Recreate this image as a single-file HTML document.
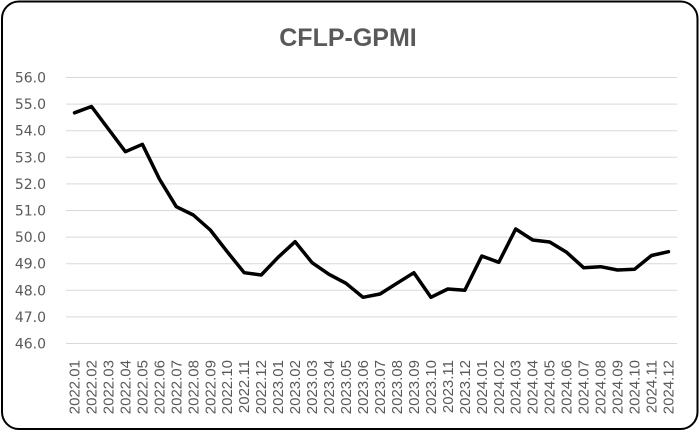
<!DOCTYPE html>
<html>
<head>
<meta charset="utf-8">
<style>
  html, body { margin:0; padding:0; background:#fff; }
  svg { display:block; }
</style>
</head>
<body>
<svg width="700" height="431" viewBox="0 0 700 431" xmlns="http://www.w3.org/2000/svg">
  <rect x="0" y="0" width="700" height="431" fill="#fff"/>
  <rect x="2" y="1.5" width="695.5" height="427.5" rx="17" ry="17" fill="#fff" stroke="#000" stroke-width="2"/>
  <text x="348" y="46" text-anchor="middle" font-family="Liberation Sans, Arial, sans-serif" font-weight="bold" font-size="25" fill="#595959">CFLP-GPMI</text>

  <g stroke="#d9d9d9" stroke-width="1">
    <line x1="66" x2="677" y1="77.5" y2="77.5"/>
    <line x1="66" x2="677" y1="104.1" y2="104.1"/>
    <line x1="66" x2="677" y1="130.7" y2="130.7"/>
    <line x1="66" x2="677" y1="157.3" y2="157.3"/>
    <line x1="66" x2="677" y1="183.9" y2="183.9"/>
    <line x1="66" x2="677" y1="210.5" y2="210.5"/>
    <line x1="66" x2="677" y1="237.1" y2="237.1"/>
    <line x1="66" x2="677" y1="263.7" y2="263.7"/>
    <line x1="66" x2="677" y1="290.3" y2="290.3"/>
    <line x1="66" x2="677" y1="316.9" y2="316.9"/>
    <line x1="66" x2="677" y1="343.5" y2="343.5"/>
  </g>

  <g font-family="DejaVu Sans, sans-serif" font-size="14" fill="#595959" text-anchor="end">
    <text x="46" y="82.5">56.0</text>
    <text x="46" y="109.1">55.0</text>
    <text x="46" y="135.7">54.0</text>
    <text x="46" y="162.3">53.0</text>
    <text x="46" y="188.9">52.0</text>
    <text x="46" y="215.5">51.0</text>
    <text x="46" y="242.1">50.0</text>
    <text x="46" y="268.7">49.0</text>
    <text x="46" y="295.3">48.0</text>
    <text x="46" y="321.9">47.0</text>
    <text x="46" y="348.5">46.0</text>
  </g>

  <polyline fill="none" stroke="#000" stroke-width="3.5" stroke-linejoin="round" stroke-linecap="round"
    points="74.5,112.8 91.5,106.5 108.4,129 125.4,151.7 142.4,144.3 159.4,179 176.3,206.7 193.3,215 210.3,230 227.2,251.7 244.2,272.7 261.2,275 278.1,257.3 295.1,241.7 312.1,262.7 329.0,274.3 346.0,283.3 363.0,297.3 380.0,294 396.9,283.3 413.9,272.7 430.9,297.3 447.8,289 464.8,290.3 481.8,256 498.8,262.3 515.7,229 532.7,240 549.7,242 566.6,252.3 583.6,267.7 600.6,266.7 617.5,270 634.5,269.3 651.5,255.5 668.5,251.7"/>

  <g font-family="Liberation Sans, Arial, sans-serif" font-size="15" fill="#595959" text-anchor="end">
    <text transform="translate(79.5,360) rotate(-90)">2022.01</text>
    <text transform="translate(96.5,360) rotate(-90)">2022.02</text>
    <text transform="translate(113.4,360) rotate(-90)">2022.03</text>
    <text transform="translate(130.4,360) rotate(-90)">2022.04</text>
    <text transform="translate(147.4,360) rotate(-90)">2022.05</text>
    <text transform="translate(164.4,360) rotate(-90)">2022.06</text>
    <text transform="translate(181.3,360) rotate(-90)">2022.07</text>
    <text transform="translate(198.3,360) rotate(-90)">2022.08</text>
    <text transform="translate(215.3,360) rotate(-90)">2022.09</text>
    <text transform="translate(232.2,360) rotate(-90)">2022.10</text>
    <text transform="translate(249.2,360) rotate(-90)">2022.11</text>
    <text transform="translate(266.2,360) rotate(-90)">2022.12</text>
    <text transform="translate(283.1,360) rotate(-90)">2023.01</text>
    <text transform="translate(300.1,360) rotate(-90)">2023.02</text>
    <text transform="translate(317.1,360) rotate(-90)">2023.03</text>
    <text transform="translate(334.0,360) rotate(-90)">2023.04</text>
    <text transform="translate(351.0,360) rotate(-90)">2023.05</text>
    <text transform="translate(368.0,360) rotate(-90)">2023.06</text>
    <text transform="translate(385.0,360) rotate(-90)">2023.07</text>
    <text transform="translate(401.9,360) rotate(-90)">2023.08</text>
    <text transform="translate(418.9,360) rotate(-90)">2023.09</text>
    <text transform="translate(435.9,360) rotate(-90)">2023.10</text>
    <text transform="translate(452.8,360) rotate(-90)">2023.11</text>
    <text transform="translate(469.8,360) rotate(-90)">2023.12</text>
    <text transform="translate(486.8,360) rotate(-90)">2024.01</text>
    <text transform="translate(503.8,360) rotate(-90)">2024.02</text>
    <text transform="translate(520.7,360) rotate(-90)">2024.03</text>
    <text transform="translate(537.7,360) rotate(-90)">2024.04</text>
    <text transform="translate(554.7,360) rotate(-90)">2024.05</text>
    <text transform="translate(571.6,360) rotate(-90)">2024.06</text>
    <text transform="translate(588.6,360) rotate(-90)">2024.07</text>
    <text transform="translate(605.6,360) rotate(-90)">2024.08</text>
    <text transform="translate(622.5,360) rotate(-90)">2024.09</text>
    <text transform="translate(639.5,360) rotate(-90)">2024.10</text>
    <text transform="translate(656.5,360) rotate(-90)">2024.11</text>
    <text transform="translate(673.5,360) rotate(-90)">2024.12</text>
  </g>
</svg>
</body>
</html>
